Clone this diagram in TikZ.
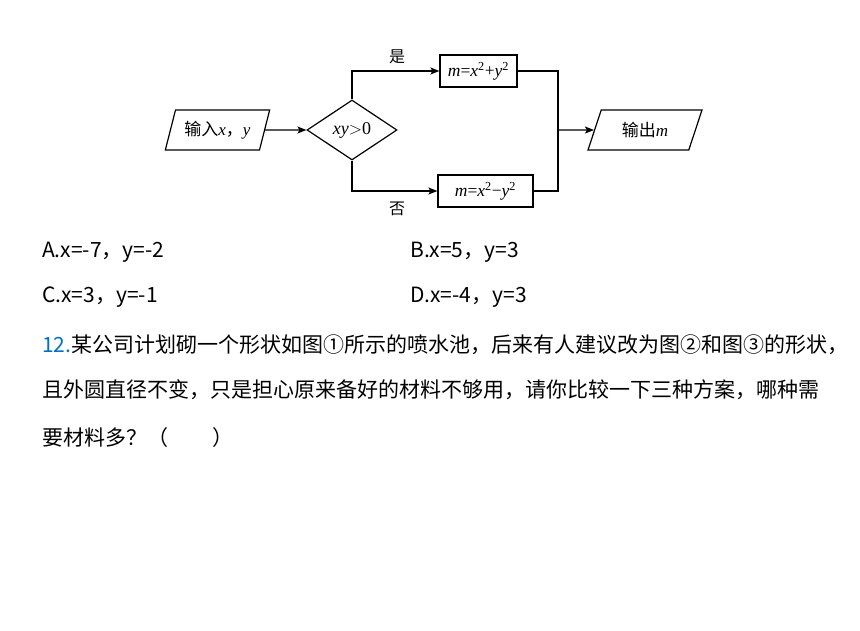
\documentclass[tikz,border=0pt]{standalone}
\usepackage{fontspec}
\setmainfont{Liberation Serif}
\newfontfamily\cjk{Noto Sans CJK SC}
\usepackage{xcolor}
\usepackage{tikz}
\usetikzlibrary{shapes.geometric,arrows.meta}
\definecolor{qblue}{RGB}{0,112,192}
\newcommand{\va}[1]{\textit{#1}}

\begin{document}
\begin{tikzpicture}[x=1pt,y=-1pt,
    io/.style={trapezium,trapezium left angle=66,trapezium right angle=114,
      trapezium stretches=true,draw,line width=1.2pt,minimum width=#1,
      minimum height=40pt,inner sep=0pt,font=\fontsize{17}{19}\selectfont},
    proc/.style={rectangle,draw,line width=1.2pt,minimum height=32pt,inner sep=0pt,
      font=\fontsize{17.5}{19}\selectfont},
    decide/.style={diamond,draw,line width=1.2pt,minimum width=90pt,minimum height=60pt,
      inner sep=0pt,font=\fontsize{18}{20}\selectfont},
    lbl/.style={font=\cjk\fontsize{16}{18}\selectfont,inner sep=0pt},
    txt/.style={font=\cjk\fontsize{21}{25}\selectfont,inner sep=0pt,anchor=west},
    arr/.style={line width=1.2pt,-{Stealth[length=9pt,width=7pt,inset=2pt]}},
    wire/.style={line width=1.2pt}]
    \useasboundingbox (0,0) rectangle (860,630);
    \node [io=105pt] (inp) at (217.5,130) {{\cjk 输入}\va{x}{\cjk ，}\va{y}};
    \node [decide] (dec) at (352,130) {\va{xy}$>$0\hspace{6pt}};
    \node [proc,minimum width=77pt] (yes) at (478.5,71)
      {\va{m}=\va{x}\textsuperscript{2}+\va{y}\textsuperscript{2}};
    \node [proc,minimum width=95pt] (no) at (485.5,191)
      {\va{m}=\va{x}\textsuperscript{2}−\va{y}\textsuperscript{2}\hspace{12pt}};
    \node [io=114pt] (outp) at (645,130) {{\cjk 输出}\va{m}};
    \coordinate (join) at (558,130);
    \node [lbl] (ylbl) at (397,57) {是};
    \node [lbl] (nlbl) at (397,209) {否};
    \draw [arr] (inp) -- (dec);
    \draw [arr] (dec.north) |- (yes.west);
    \draw [arr] (dec.south) |- (no.west);
    \draw [wire] (yes.east) -| (join) |- (no.east);
    \draw [arr] (join) -- (outp);
    \node [txt] (optA) at (42,252) {A.x=-7，y=-2};
    \node [txt] (optB) at (410,252) {B.x=5，y=3};
    \node [txt] (optC) at (42,297) {C.x=3，y=-1};
    \node [txt] (optD) at (410,297) {D.x=-4，y=3};
    \node [txt] (qline1) at (42,345)
      {\textcolor{qblue}{12.}某公司计划砌一个形状如图①所示的喷水池，后来有人建议改为图②和图③的形状，};
    \node [txt] (qline2) at (42,390)
      {且外圆直径不变，只是担心原来备好的材料不够用，请你比较一下三种方案，哪种需};
    \node [txt] (qline3) at (42,438) {要材料多？（\hspace{44pt}）};
\end{tikzpicture}
\end{document}
